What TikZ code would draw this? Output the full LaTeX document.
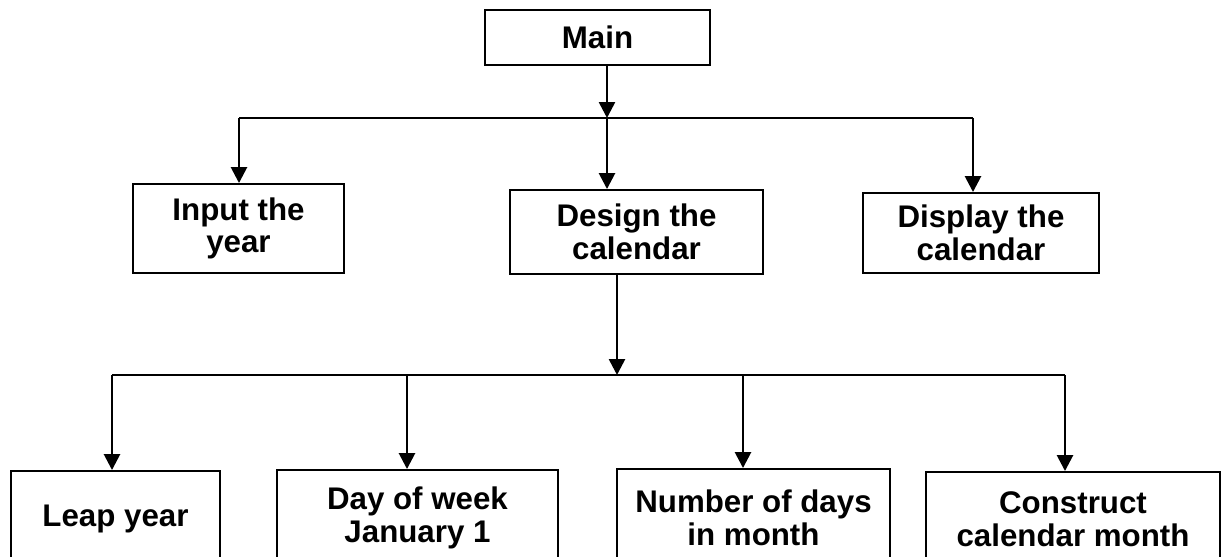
\documentclass[tikz,border=0pt]{standalone}
\usepackage{fontspec}
\setmainfont{Liberation Sans}
\usetikzlibrary{arrows.meta}

\begin{document}
\begin{tikzpicture}[x=0.02cm,y=-0.02cm,
	modbox/.style={draw, line width=1.1pt, inner sep=0pt, align=center,
		font=\bfseries\fontsize{17.8}{18.6}\selectfont},
	flow/.style={line width=1.5pt, -{Triangle[length=9pt,width=9pt]}},
	bus/.style={line width=1pt}]
			
			\clip (0,0) rectangle (1221,557);
			
			\node[modbox, minimum width = 4.5cm, minimum height = 1.1cm]
			(Main) at (597.5,37.5) {Main};
			
			\node[modbox, minimum width = 4.22cm, minimum height = 1.78cm]
			(Input) at (238.5,228.5) {Input the\\year};
			
			\node[modbox, minimum width = 5.06cm, minimum height = 1.68cm]
			(Design) at (636.5,232) {Design the\\calendar};
			
			\node[modbox, minimum width = 4.72cm, minimum height = 1.6cm]
			(Display) at (981,233) {Display the\\calendar};
			
			\coordinate (Bus1) at (607,118);
			\coordinate (Bus1-Left) at (239,118);
			\coordinate (Bus1-Right) at (973,118);
			
			\draw[flow] (Main.south -| Bus1) -- (Bus1);
			\draw[bus] (Bus1-Left) -- (Bus1-Right);
			\draw[flow] (Bus1-Left) -- (Bus1-Left |- Input.north);
			\draw[flow] (Bus1) -- (Bus1 |- Design.north);
			\draw[flow] (Bus1-Right) -- (Bus1-Right |- Display.north);
			
			\node[modbox, minimum width = 4.18cm, minimum height = 1.9cm]
			(Leap) at (115.5,518.5) {Leap year};
			
			\node[modbox, minimum width = 5.62cm, minimum height = 1.92cm]
			(Day) at (417.5,518) {Day of week\\January 1};
			
			\node[modbox, minimum width = 5.46cm, minimum height = 1.94cm]
			(Days) at (753.5,517.5) {Number of days\\in month};
			
			\node[modbox, minimum width = 5.88cm, minimum height = 1.88cm]
			(Construct) at (1073,519) {Construct\\calendar month};
			
			\coordinate (Bus2) at (617,375);
			\coordinate (Bus2-A) at (112,375);
			\coordinate (Bus2-B) at (407,375);
			\coordinate (Bus2-C) at (743,375);
			\coordinate (Bus2-D) at (1065,375);
			
			\draw[flow] (Design.south -| Bus2) -- (Bus2);
			\draw[bus] (Bus2-A) -- (Bus2-D);
			\draw[flow] (Bus2-A) -- (Bus2-A |- Leap.north);
			\draw[flow] (Bus2-B) -- (Bus2-B |- Day.north);
			\draw[flow] (Bus2-C) -- (Bus2-C |- Days.north);
			\draw[flow] (Bus2-D) -- (Bus2-D |- Construct.north);
			
		\end{tikzpicture}
\end{document}
